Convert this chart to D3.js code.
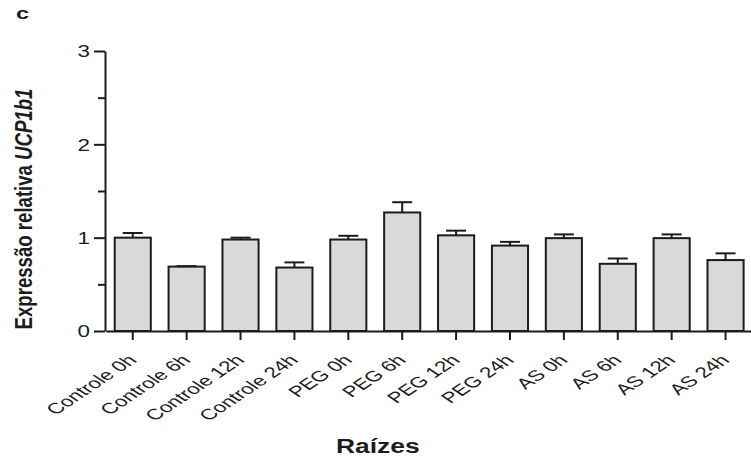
<!DOCTYPE html>
<html>
<head>
<meta charset="utf-8">
<script src="https://cdn.jsdelivr.net/npm/d3@7"></script>
<style>
  html, body { margin: 0; padding: 0; background: #fff; }
  svg { display: block; font-family: "Liberation Sans", Arial, sans-serif; }
</style>
</head>
<body>
<svg id="chart" width="751" height="462"></svg>
<script>
const categories = ["Controle 0h","Controle 6h","Controle 12h","Controle 24h","PEG 0h","PEG 6h","PEG 12h","PEG 24h","AS 0h","AS 6h","AS 12h","AS 24h"];
const values = [1.00, 0.69, 0.98, 0.68, 0.98, 1.27, 1.025, 0.915, 0.995, 0.72, 0.995, 0.76];
const errors = [0.05, 0.005, 0.02, 0.055, 0.04, 0.11, 0.05, 0.04, 0.04, 0.057, 0.04, 0.072];
const yTicks = [0, 1, 2, 3];
const yMinorTicks = [0.5, 1.5, 2.5];
const panelLabel = "c";
const xTitle = "Raízes";
const yTitleMain = "Expressão relativa ";
const yTitleGene = "UCP1b1";

const svg = d3.select("#chart");
const ink = "#1c1c1c";

const x = d3.scaleBand().domain(categories).range([105.8, 752.5]).paddingInner(0.33).paddingOuter(0.165);
const y = d3.scaleLinear().domain([0, 3]).range([331, 51]);

// bars
svg.append("g").selectAll("rect").data(categories).join("rect")
  .attr("x", d => x(d))
  .attr("y", (d, i) => y(values[i]))
  .attr("width", x.bandwidth())
  .attr("height", (d, i) => y(0) - y(values[i]))
  .attr("fill", "#d9d9d9")
  .attr("stroke", ink)
  .attr("stroke-width", 2);

// error bars (upper only)
const eg = svg.append("g").attr("stroke", ink).attr("stroke-width", 2);
categories.forEach((c, i) => {
  const cx = x(c) + x.bandwidth() / 2;
  eg.append("line").attr("x1", cx).attr("x2", cx).attr("y1", y(values[i])).attr("y2", y(values[i] + errors[i]));
  eg.append("line").attr("x1", cx - 10).attr("x2", cx + 10).attr("y1", y(values[i] + errors[i])).attr("y2", y(values[i] + errors[i]));
});

// y axis
const yAxis = svg.append("g").attr("transform", "translate(105,0)")
  .call(d3.axisLeft(y).tickValues(yTicks).tickSize(11).tickSizeOuter(0).tickFormat(d3.format("d")));
svg.append("g").attr("transform", "translate(105,0)")
  .call(d3.axisLeft(y).tickValues(yMinorTicks).tickSize(7).tickSizeOuter(0).tickFormat(""))
  .call(g => g.select(".domain").remove());
yAxis.selectAll("text")
  .attr("x", 0).attr("dy", "0.36em")
  .attr("transform", "translate(-15,0) scale(1.4,1)")
  .attr("font-size", 16).attr("fill", ink);

// x axis
const xAxis = svg.append("g").attr("transform", `translate(0,${y(0)})`)
  .call(d3.axisBottom(x).tickSize(9).tickSizeOuter(0));
xAxis.selectAll("text")
  .attr("x", 0).attr("y", 0).attr("dy", 0)
  .attr("text-anchor", "end")
  .attr("transform", "translate(5,30) scale(1.5,1) rotate(-45)")
  .attr("font-size", 15).attr("fill", ink);

svg.selectAll(".domain, .tick line").attr("stroke", ink).attr("stroke-width", 2);

// titles
svg.append("text").attr("transform", "translate(16,19) scale(1.38,1)")
  .attr("font-weight", "bold").attr("font-size", 17).attr("fill", ink).text(panelLabel);

svg.append("text").attr("transform", "translate(377.8,453) scale(1.26,1)")
  .attr("text-anchor", "middle").attr("font-weight", "bold").attr("font-size", 21).attr("fill", ink).text(xTitle);

const yt = svg.append("text").attr("transform", "translate(32,209) scale(1.25,1) rotate(-90)")
  .attr("text-anchor", "middle").attr("font-weight", "bold").attr("font-size", 18.6).attr("fill", ink);
yt.append("tspan").text(yTitleMain);
yt.append("tspan").attr("font-style", "italic").text(yTitleGene);
</script>
</body>
</html>
